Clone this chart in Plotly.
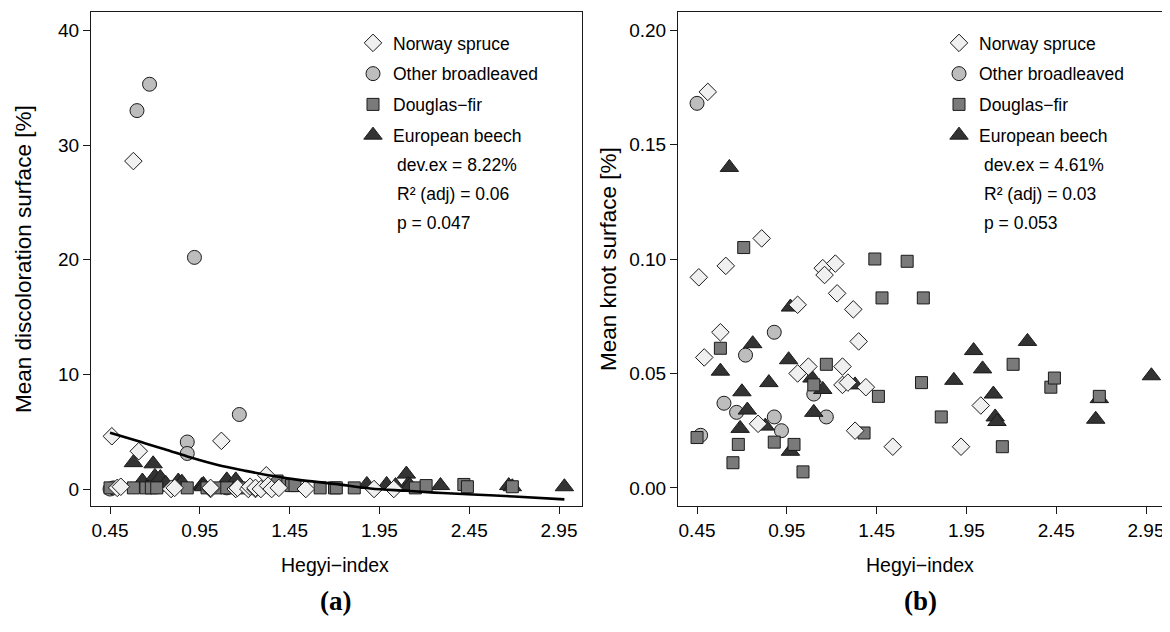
import plotly.graph_objects as go

# ---------------- data ----------------
# Norway spruce
ns_x = [0.46, 0.49, 0.51, 0.58, 0.61, 0.79, 0.81, 1.01, 1.01, 1.07, 1.15, 1.16,
        1.22, 1.23, 1.26, 1.26, 1.29, 1.32, 1.33, 1.35, 1.39, 1.54, 1.92, 2.03]
ns_disc = [4.6, 0.1, 0.2, 28.6, 3.3, 0.0, 0.1, 0.0, 0.1, 4.2, 0.0, 0.1,
           0.0, 0.2, 0.0, 0.1, 0.0, 1.2, 0.3, 0.0, 0.1, 0.0, 0.0, 0.0]
ns_knot = [0.092, 0.057, 0.173, 0.068, 0.097, 0.028, 0.109, 0.080, 0.050, 0.053, 0.096, 0.093,
           0.098, 0.085, 0.053, 0.045, 0.046, 0.078, 0.025, 0.064, 0.044, 0.018, 0.018, 0.036]

# Other broadleaved
ob_x = [0.45, 0.47, 0.60, 0.67, 0.72, 0.88, 0.88, 0.92, 1.10, 1.17]
ob_disc = [0.0, 0.1, 33.0, 35.3, 0.2, 4.1, 3.1, 20.2, 0.1, 6.5]
ob_knot = [0.168, 0.023, 0.037, 0.033, 0.058, 0.068, 0.031, 0.025, 0.041, 0.031]

# Douglas-fir
df_x = [0.45, 0.58, 0.65, 0.68, 0.71, 0.88, 0.99, 1.04, 1.10, 1.17, 1.38, 1.44,
        1.46, 1.48, 1.62, 1.70, 1.71, 1.81, 2.15, 2.21, 2.42, 2.44, 2.69]
df_disc = [0.1, 0.1, 0.1, 0.1, 0.1, 0.1, 0.1, 0.1, 0.1, 0.1, 0.7, 0.4,
           0.3, 0.3, 0.1, 0.1, 0.1, 0.1, 0.1, 0.3, 0.4, 0.2, 0.2]
df_knot = [0.022, 0.061, 0.011, 0.019, 0.105, 0.020, 0.019, 0.007, 0.045, 0.054, 0.024, 0.100,
           0.040, 0.083, 0.099, 0.046, 0.083, 0.031, 0.018, 0.054, 0.044, 0.048, 0.040]

# European beech
eb_x = [0.58, 0.63, 0.69, 0.70, 0.73, 0.76, 0.83, 0.85, 0.96, 0.97, 0.97, 1.09, 1.10,
        1.15, 1.33, 1.88, 1.99, 2.04, 2.10, 2.11, 2.12, 2.29, 2.67, 2.69, 2.98]
eb_disc = [2.3, 0.7, 2.2, 1.1, 1.0, 0.5, 0.7, 0.6, 0.3, 0.4, 0.2, 0.5, 0.8,
           0.8, 0.3, 0.4, 0.4, 0.3, 1.3, 0.4, 0.3, 0.3, 0.3, 0.2, 0.2]
eb_knot = [0.051, 0.140, 0.026, 0.042, 0.034, 0.063, 0.027, 0.046, 0.056, 0.079, 0.016, 0.048, 0.033,
           0.043, 0.045, 0.047, 0.060, 0.052, 0.041, 0.031, 0.029, 0.064, 0.030, 0.039, 0.049]

# fitted curve (panel a)
fit_x = [0.45, 0.60, 0.75, 0.90, 1.05, 1.20, 1.35, 1.50, 1.70, 1.90, 2.10, 2.30, 2.50, 2.70, 2.98]
fit_y = [4.9, 4.2, 3.5, 2.75, 2.1, 1.6, 1.15, 0.8, 0.45, 0.05, -0.15, -0.35, -0.5, -0.65, -0.9]

x_ticks = [0.45, 0.95, 1.45, 1.95, 2.45, 2.95]
x_ticklabels = ["0.45", "0.95", "1.45", "1.95", "2.45", "2.95"]
ya_ticks = [0, 10, 20, 30, 40]
yb_ticks = [0.00, 0.05, 0.10, 0.15, 0.20]
yb_ticklabels = ["0.00", "0.05", "0.10", "0.15", "0.20"]

species = ["Norway spruce", "Other broadleaved", "Douglas\u2212fir", "European beech"]
stats_a = ["dev.ex = 8.22%", "R\u00b2 (adj) = 0.06", "p = 0.047"]
stats_b = ["dev.ex = 4.61%", "R\u00b2 (adj) = 0.03", "p = 0.053"]

# ---------------- styling ----------------
# the page body has an 8px default margin: work in screen pixels, shift by 8
OFF = 8
W, H = 1170 - OFF, 632 - OFF
FONT = "Liberation Sans, Arial, sans-serif"
SERIF = "Liberation Serif, Times New Roman, serif"
EDGE = "#1a1a1a"

styles = {
    "Norway spruce": dict(symbol="diamond", size=13.5, color="#f0f0f0"),
    "Other broadleaved": dict(symbol="circle", size=14, color="#bdbdbd"),
    "Douglas\u2212fir": dict(symbol="square", size=12, color="#7a7a7a"),
    "European beech": dict(symbol="triangle-up", size=16, color="#333333"),
}


def fx(p):
    return (p - OFF) / W


def fy(p):
    return 1 - (p - OFF) / H


fig = go.Figure()

data_a = {
    "Other broadleaved": (ob_x, ob_disc),
    "European beech": (eb_x, eb_disc),
    "Douglas\u2212fir": (df_x, df_disc),
    "Norway spruce": (ns_x, ns_disc),
}
data_b = {
    "Other broadleaved": (ob_x, ob_knot),
    "European beech": (eb_x, eb_knot),
    "Douglas\u2212fir": (df_x, df_knot),
    "Norway spruce": (ns_x, ns_knot),
}

for name, (xs, ys) in data_a.items():
    st = styles[name]
    fig.add_trace(go.Scatter(
        x=xs, y=ys, mode="markers", showlegend=False, xaxis="x", yaxis="y",
        marker=dict(symbol=st["symbol"], size=st["size"], color=st["color"],
                    line=dict(color=EDGE, width=1))))

fig.add_trace(go.Scatter(x=fit_x, y=fit_y, mode="lines", showlegend=False,
                         xaxis="x", yaxis="y", line=dict(color="black", width=2.6, shape="spline")))

for name, (xs, ys) in data_b.items():
    st = styles[name]
    fig.add_trace(go.Scatter(
        x=xs, y=ys, mode="markers", showlegend=False, xaxis="x2", yaxis="y2",
        marker=dict(symbol=st["symbol"], size=st["size"], color=st["color"],
                    line=dict(color=EDGE, width=1))))

# legend-only entries (no data)
for leg, xa, ya in (("legend", "x", "y"), ("legend2", "x2", "y2")):
    for name in species:
        st = styles[name]
        fig.add_trace(go.Scatter(
            x=[None], y=[None], mode="markers", name=name, legend=leg,
            legendgroup=leg + name, xaxis=xa, yaxis=ya,
            marker=dict(symbol=st["symbol"], size=st["size"], color=st["color"],
                        line=dict(color=EDGE, width=1))))

axis_common = dict(
    ticks="outside", ticklen=7, tickwidth=1, tickcolor=EDGE,
    showline=True, linecolor=EDGE, linewidth=1, mirror=True,
    showgrid=False, zeroline=False, automargin=False,
    tickfont=dict(family=FONT, size=19, color="black"),
)

y_dom = [fy(506), fy(12)]
legend_common = dict(xanchor="left", yanchor="top", bgcolor="rgba(0,0,0,0)", borderwidth=0,
                     traceorder="grouped", tracegroupgap=5,
                     font=dict(family=FONT, size=17.5, color="black"))
fig.update_layout(
    width=W, height=H,
    margin=dict(l=0, r=0, t=0, b=0),
    paper_bgcolor="white", plot_bgcolor="white",
    font=dict(family=FONT, color="black"),
    xaxis=dict(domain=[fx(91), fx(582)], range=[0.344, 3.078], tickvals=x_ticks,
               ticktext=x_ticklabels, anchor="y", **axis_common),
    yaxis=dict(domain=y_dom, range=[-1.48, 41.6], tickvals=ya_ticks, anchor="x", **axis_common),
    xaxis2=dict(domain=[fx(678), fx(1169)], range=[0.344, 3.078], tickvals=x_ticks,
                ticktext=x_ticklabels, anchor="y2", **axis_common),
    yaxis2=dict(domain=y_dom, range=[-0.0079, 0.2079], tickvals=yb_ticks,
                ticktext=yb_ticklabels, anchor="x2", **axis_common),
    legend=dict(x=fx(353), y=fy(25), **legend_common),
    legend2=dict(x=fx(939), y=fy(25), **legend_common),
    showlegend=True,
)

annotations = []
for i, (sa, sb) in enumerate(zip(stats_a, stats_b)):
    yy = fy(165 + 29 * i)
    annotations.append(dict(text=sa, x=fx(395), y=yy, xref="paper", yref="paper",
                            xanchor="left", yanchor="middle", showarrow=False,
                            font=dict(family=FONT, size=17.5, color="black")))
    annotations.append(dict(text=sb, x=fx(982), y=yy, xref="paper", yref="paper",
                            xanchor="left", yanchor="middle", showarrow=False,
                            font=dict(family=FONT, size=17.5, color="black")))

# axis titles
for xc in (335, 920):
    annotations.append(dict(text="Hegyi\u2212index", x=fx(xc), y=fy(565), xref="paper", yref="paper",
                            xanchor="center", yanchor="middle", showarrow=False,
                            font=dict(family=FONT, size=19.5, color="black")))
annotations.append(dict(text="Mean discoloration surface [%]", x=fx(23), y=fy(259), xref="paper",
                        yref="paper", textangle=-90, xanchor="center", yanchor="middle",
                        showarrow=False, font=dict(family=FONT, size=22.5, color="black")))
annotations.append(dict(text="Mean knot surface [%]", x=fx(608), y=fy(259), xref="paper",
                        yref="paper", textangle=-90, xanchor="center", yanchor="middle",
                        showarrow=False, font=dict(family=FONT, size=22.5, color="black")))
# panel labels
annotations.append(dict(text="<b>(a)</b>", x=fx(335), y=fy(601), xref="paper", yref="paper",
                        xanchor="center", yanchor="middle", showarrow=False,
                        font=dict(family=SERIF, size=27, color="black")))
annotations.append(dict(text="<b>(b)</b>", x=fx(920), y=fy(601), xref="paper", yref="paper",
                        xanchor="center", yanchor="middle", showarrow=False,
                        font=dict(family=SERIF, size=27, color="black")))
fig.update_layout(annotations=annotations)

fig.write_html("out.html")
